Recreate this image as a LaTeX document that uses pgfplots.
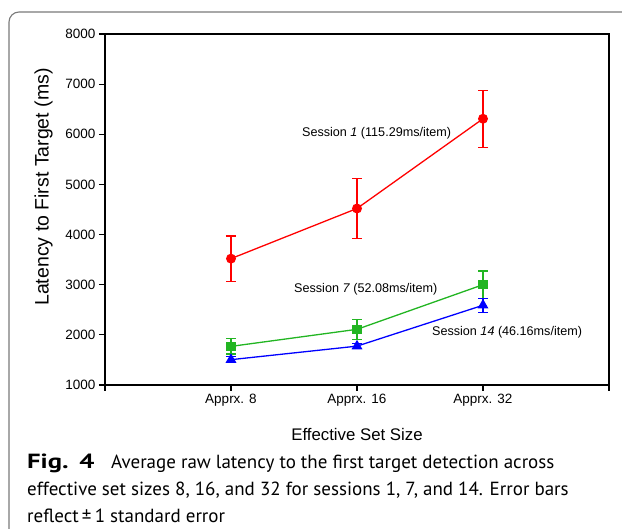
\documentclass[border=0pt]{standalone}
\usepackage{fontspec}
\setmainfont{Liberation Sans}
\newfontfamily\capfont{PT Sans}
\usepackage{graphicx}
\usepackage{pgfplots}
\usepackage{pgfplotstable}
\pgfplotsset{compat=1.18}
\definecolor{sred}{HTML}{FF0000}
\definecolor{sgreen}{HTML}{22B522}
\definecolor{sblue}{HTML}{0000FF}
\definecolor{framegray}{HTML}{7A7A7A}

% session means and standard errors
\pgfplotstableread{
x y e
1 3520 450
2 4520 595
3 6310 570
}\sone
\pgfplotstableread{
x y e
1 1770 150
2 2110 195
3 3000 275
}\sseven
\pgfplotstableread{
x y e
1 1505 60
2 1775 45
3 2590 140
}\sfourteen

\begin{document}
\begin{tikzpicture}[x=1pt,y=1pt]
\useasboundingbox (0,0) rectangle (622,529);
\clip (0,0) rectangle (622,529);
\draw[framegray, line width=1.1pt, rounded corners=10pt] (9,-30) -- (9,517) -- (680,517);
\begin{axis}[
    at={(105pt,144pt)}, anchor=south west,
    scale only axis, width=504pt, height=351pt,
    xmin=0, xmax=4, ymin=1000, ymax=8000,
    xtick={0,1,2,3,4}, xticklabels={,Apprx. 8,Apprx. 16,Apprx. 32,},
    ytick={1000,2000,...,8000},
    tick align=outside, tick pos=left,
    major tick length=6pt,
    axis line style={line width=1.6pt},
    every tick/.style={black, line width=1.2pt},
    tick label style={font=\fontsize{13.5}{16}\selectfont},
    /pgf/number format/assume math mode=true,
    /pgf/number format/set thousands separator={},
    xlabel={Effective Set Size},
    ylabel={Latency to First Target (ms)},
    xlabel style={font=\fontsize{16.8}{20}\selectfont, at={(axis description cs:0.5,-0.14)}, anchor=center},
    ylabel style={font=\fontsize{19.5}{23}\selectfont, at={(axis description cs:-0.122,0.564)}, anchor=center},
    clip=false,
]
\addplot[sred, line width=1.3pt, mark=*, mark size=4.3pt,
    error bars/.cd, y dir=both, y explicit,
    error bar style={line width=1.2pt},
    error mark options={rotate=90, mark size=5pt, line width=1.2pt}]
    table[x=x, y=y, y error=e] {\sone};
\addplot[sgreen, line width=1.3pt, mark=square*, mark size=4pt,
    error bars/.cd, y dir=both, y explicit,
    error bar style={line width=1.2pt},
    error mark options={rotate=90, mark size=5pt, line width=1.2pt}]
    table[x=x, y=y, y error=e] {\sseven};
\addplot[sblue, line width=1.3pt, mark=triangle*, mark size=5pt,
    error bars/.cd, y dir=both, y explicit,
    error bar style={line width=1.2pt},
    error mark options={rotate=90, mark size=5pt, line width=1.2pt}]
    table[x=x, y=y, y error=e] {\sfourteen};

\node[anchor=west, inner sep=0, font=\fontsize{12.6}{15}\selectfont] at (axis cs:1.563,6026) {Session \textit{1} (115.29ms/item)};
\node[anchor=west, inner sep=0, font=\fontsize{12.6}{15}\selectfont] at (axis cs:1.5,2915) {Session \textit{7} (52.08ms/item)};
\node[anchor=west, inner sep=0, font=\fontsize{12.6}{15}\selectfont] at (axis cs:2.595,2057) {Session \textit{14} (46.16ms/item)};
\end{axis}

\node[anchor=base west, inner sep=0, font=\capfont\fontsize{19}{22}\selectfont] at (27,60)
    {\makebox[84pt][l]{\scalebox{1.3}[1.0]{\fontsize{20.5}{22}\selectfont\bfseries Fig.\hspace{0.4em}4}}Average raw latency to the first target detection across};
\node[anchor=base west, inner sep=0, font=\capfont\fontsize{19}{22}\selectfont] at (27,33)
    {effective set sizes 8, 16, and 32 for sessions 1, 7, and 14. Error bars};
\node[anchor=base west, inner sep=0, font=\capfont\fontsize{19}{22}\selectfont] at (27,6)
    {reflect\,±\,1 standard error};
\end{tikzpicture}
\end{document}
